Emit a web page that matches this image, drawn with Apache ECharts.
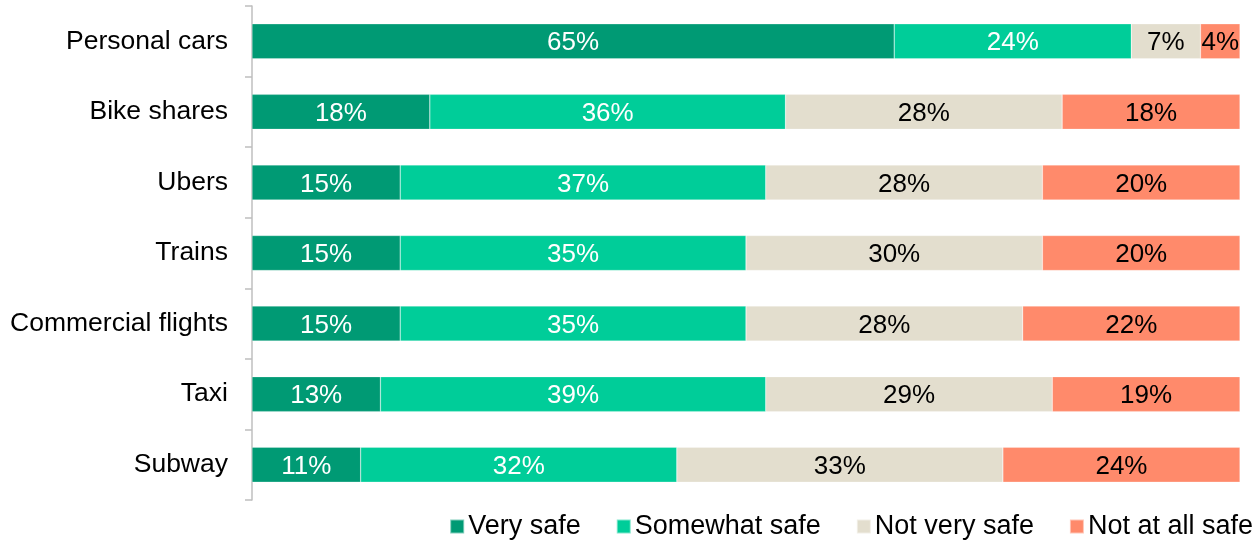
<!DOCTYPE html>
<html><head><meta charset="utf-8">
<script src="https://cdn.jsdelivr.net/npm/echarts@6/dist/echarts.min.js"></script>
<style>html,body{margin:0;padding:0;background:#fff}#c{width:1259px;height:541px}</style>
</head><body><div id="c"></div>
<script>
const categories = ["Personal cars","Bike shares","Ubers","Trains","Commercial flights","Taxi","Subway"];
const seriesNames = ["Very safe","Somewhat safe","Not very safe","Not at all safe"];
const verySafe = [65,18,15,15,15,13,11];
const somewhatSafe = [24,36,37,35,35,39,32];
const notVerySafe = [7,28,28,30,28,29,33];
const notAtAllSafe = [4,18,20,20,22,19,24];
const colors = ["#009A74","#00CD99","#E3DECE","#FF8A6B"];
const labelColors = ["#fff","#fff","#000","#000"];
const values = [verySafe, somewhatSafe, notVerySafe, notAtAllSafe];
const font = "'Liberation Sans', Arial, sans-serif";
const chart = echarts.init(document.getElementById('c'));
chart.setOption({
  animation:false,
  grid:{left:252,right:19,top:6,bottom:41,containLabel:false},
  legend:{top:508,right:1,itemWidth:14,itemHeight:14,itemGap:35,
    textStyle:{fontSize:27,fontFamily:font,color:'#000',padding:[0,0,0,-1]},
    data:seriesNames, icon:'rect'},
  xAxis:{type:'value',min:0,max:100,show:false},
  yAxis:{type:'category',data:categories,inverse:true,
    axisLine:{show:true,lineStyle:{color:'#BFBFBF',width:1.5}},
    axisTick:{show:true,length:7,lineStyle:{color:'#BFBFBF',width:1.5}},
    axisLabel:{fontSize:26.5,fontFamily:font,color:'#000',margin:24}},
  series: seriesNames.map((n,i)=>({
    name:n,type:'bar',stack:'all',data:values[i],barWidth:35,
    itemStyle:{color:colors[i],borderColor:'rgba(255,255,255,0.5)',borderWidth:0.5},
    label:{show:true,position:'inside',formatter:'{c}%',fontSize:26,fontFamily:font,color:labelColors[i],offset:[0,2]},
    emphasis:{disabled:true}
  }))
});
</script></body></html>
